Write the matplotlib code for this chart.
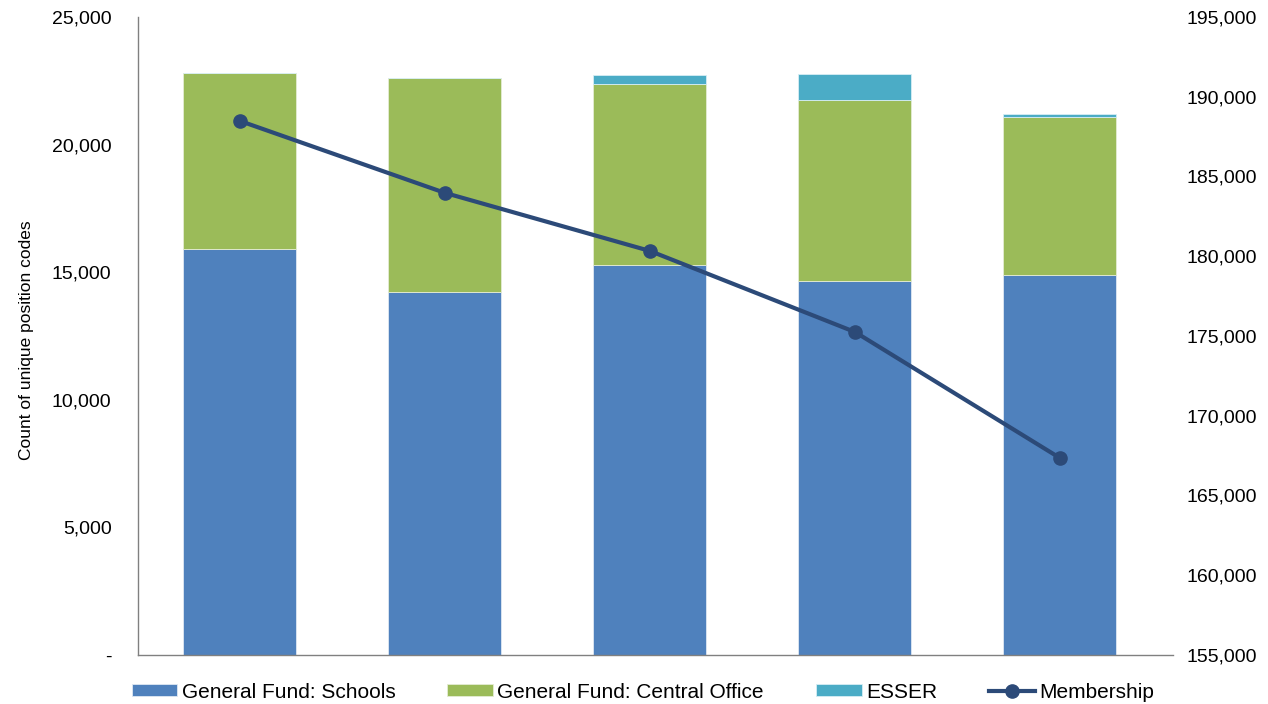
import matplotlib
matplotlib.use("Agg")
import matplotlib.pyplot as plt
import numpy as np
from matplotlib.ticker import FuncFormatter

plt.rcParams["font.family"] = ["Liberation Sans", "DejaVu Sans"]

categories = ["Year 1", "Year 2", "Year 3", "Year 4", "Year 5"]
gf_schools = [15900, 14220, 15280, 14660, 14890]
gf_central = [6900, 8390, 7090, 7090, 6190]
esser = [0, 0, 360, 1020, 120]
membership = [188480, 183970, 180330, 175250, 167350]

C_SCHOOLS = "#4F81BD"
C_CENTRAL = "#9BBB59"
C_ESSER = "#4BACC6"
C_LINE = "#2C4A78"

fig = plt.figure(figsize=(12.68, 7.04), dpi=100)
ax = fig.add_axes([0.1088, 0.0696, 0.8162, 0.9063])
x = np.arange(len(categories))
w = 0.551

b1 = ax.bar(x, gf_schools, w, color=C_SCHOOLS, edgecolor="#dfe8f3", linewidth=0.6,
            label="General Fund: Schools")
b2 = ax.bar(x, gf_central, w, bottom=gf_schools, color=C_CENTRAL, edgecolor="#e4ecd4",
            linewidth=0.6, label="General Fund: Central Office")
bottom2 = np.array(gf_schools) + np.array(gf_central)
b3 = ax.bar(x, esser, w, bottom=bottom2, color=C_ESSER, edgecolor="#d7eef4",
            linewidth=0.6, label="ESSER")

ax.set_xlim(-0.4976, 4.551)
ax.set_ylim(0, 25000)
ax.set_yticks(range(0, 25001, 5000))
ax.yaxis.set_major_formatter(FuncFormatter(lambda v, p: "-" if v == 0 else f"{int(v):,}"))
ax.set_xticks([])
ax.tick_params(axis="y", length=0, pad=19, labelsize=14, colors="#000000")
for s in ["top", "right"]:
    ax.spines[s].set_visible(False)
for s in ["left", "bottom"]:
    ax.spines[s].set_color("#808080")
    ax.spines[s].set_linewidth(1.0)
ax.set_ylabel("Count of unique position codes", fontsize=12.5)
ax.yaxis.set_label_coords(-0.1003, 0.494)

ax2 = ax.twinx()
(ln,) = ax2.plot(x, membership, color=C_LINE, linewidth=3, marker="o", markersize=9.5,
                 label="Membership")
ax2.set_ylim(155000, 195000)
ax2.set_yticks(range(155000, 195001, 5000))
ax2.yaxis.set_major_formatter(FuncFormatter(lambda v, p: f"{int(v):,}"))
ax2.tick_params(axis="y", length=0, pad=10, labelsize=14)
for s in ["top", "right", "left", "bottom"]:
    ax2.spines[s].set_visible(False)

fig.legend(handles=[b1, b2, b3, ln], loc="center", bbox_to_anchor=(0.507, 0.017),
           ncol=4, frameon=False, fontsize=15, handlelength=2.2, handleheight=0.55,
           handletextpad=0.2, columnspacing=2.5)

fig.savefig("out.png", dpi=100)
plt.close(fig)
